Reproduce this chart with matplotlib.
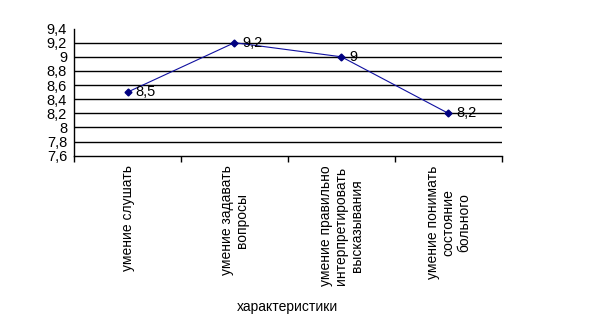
import matplotlib.pyplot as plt
import numpy as np

categories = ["умение слушать",
              "умение задавать\nвопросы",
              "умение правильно\nинтерпретировать\nвысказывания",
              "умение понимать\nсостояние\nбольного"]
values = [8.5, 9.2, 9.0, 8.2]
y_ticks = [7.6, 7.8, 8.0, 8.2, 8.4, 8.6, 8.8, 9.0, 9.2, 9.4]
x_title = "характеристики"


def comma(v):
    s = ("%.1f" % v).rstrip("0").rstrip(".")
    return s.replace(".", ",")


plt.rcParams['font.family'] = ['Liberation Sans', 'DejaVu Sans']
fs = 10

fig = plt.figure(figsize=(6.12, 3.32), dpi=100)
ax = fig.add_axes([0.121, 0.531, 0.699, 0.383])

x = np.arange(1, len(values) + 1)
ax.plot(x, values, color='#1010a0', lw=0.8, marker='D', ms=3.5,
        mfc='#000080', mec='#000080', zorder=3)
for xi, v in zip(x, values):
    ax.annotate(comma(v), (xi, v), xytext=(6, 0), textcoords='offset points',
                va='center', ha='left', fontsize=10.5)

ax.set_xlim(0.5, len(values) + 0.5)
ax.set_ylim(y_ticks[0], y_ticks[-1])
ax.set_yticks(y_ticks)
ax.set_yticklabels([comma(t) for t in y_ticks], fontsize=10.5)
for t in y_ticks[1:-1]:
    ax.axhline(t, color='black', lw=1, zorder=1)

ax.set_xticks(x)
ax.set_xticklabels(categories, rotation=90, fontsize=fs, va='top',
                   ha='center', multialignment='center', linespacing=1.15)
ax.set_xticks(np.arange(0.5, len(values) + 1), minor=True)
ax.tick_params(axis='x', which='major', length=0, pad=7)
ax.tick_params(axis='x', which='minor', length=4, width=1, direction='out')
ax.tick_params(axis='y', length=0, pad=5)

ax.set_xlabel(x_title, fontsize=fs, labelpad=10)

for s in ['top', 'right']:
    ax.spines[s].set_visible(False)
ax.spines['left'].set_linewidth(1)
ax.spines['bottom'].set_linewidth(1)

fig.savefig('out.png', dpi=100)
